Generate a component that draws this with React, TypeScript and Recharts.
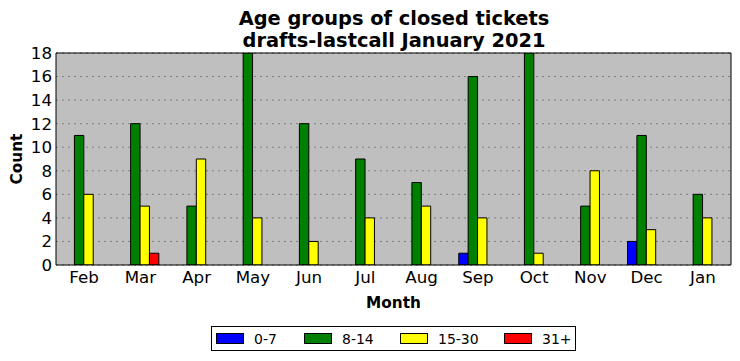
import React from 'react';
import { BarChart, Bar, XAxis, YAxis, CartesianGrid } from 'recharts';

const months = ['Feb', 'Mar', 'Apr', 'May', 'Jun', 'Jul', 'Aug', 'Sep', 'Oct', 'Nov', 'Dec', 'Jan'];
const age0to7 = [0, 0, 0, 0, 0, 0, 0, 1, 0, 0, 2, 0];
const age8to14 = [11, 12, 5, 18, 12, 9, 7, 16, 18, 5, 11, 6];
const age15to30 = [6, 5, 9, 4, 2, 4, 5, 4, 1, 8, 3, 4];
const age31plus = [0, 1, 0, 0, 0, 0, 0, 0, 0, 0, 0, 0];
const yTicks = [0, 2, 4, 6, 8, 10, 12, 14, 16, 18];

const seriesNames = ['0-7', '8-14', '15-30', '31+'];
const seriesColors = ['#0000ff', '#008000', '#ffff00', '#ff0000'];

const data = months.map((m, i) => ({
  month: m,
  a: age0to7[i],
  b: age8to14[i],
  c: age15to30[i],
  d: age31plus[i],
}));

const FONT = '"DejaVu Sans", sans-serif';

export default function App() {
  const keys = ['a', 'b', 'c', 'd'];
  return (
    <div style={{ position: 'absolute', left: 0, top: 0, width: 740, height: 361, background: '#fff', fontFamily: FONT }}>
      <BarChart
        width={740}
        height={361}
        data={data}
        margin={{ top: 53, right: 9, bottom: 95, left: 55 }}
        barGap={0}
        barSize={9.4}
      >
        <CartesianGrid vertical={false} stroke="#808080" strokeDasharray="2 4" fill="#bfbfbf" fillOpacity={1} />
        <XAxis
          dataKey="month"
          height={1}
          interval={0}
          tickLine={false}
          tickSize={0}
          tickMargin={6}
          axisLine={{ stroke: '#000', strokeWidth: 1 }}
          tick={{ fill: '#000', fontSize: 16.7, fontFamily: FONT }}
        />
        <XAxis xAxisId="bt" dataKey="month" height={1} mirror interval={0} tick={false} tickSize={4} tickLine={{ stroke: '#000' }} axisLine={false} />
        <XAxis xAxisId="top" orientation="top" dataKey="month" height={1} mirror interval={0} tick={false} tickSize={4} tickLine={{ stroke: '#000' }} axisLine={{ stroke: '#000', strokeWidth: 1 }} />
        <YAxis
          width={1}
          domain={[0, 18]}
          ticks={yTicks}
          interval={0}
          allowDataOverflow
          tickLine={false}
          tickSize={0}
          tickMargin={4}
          axisLine={{ stroke: '#000', strokeWidth: 1 }}
          tick={{ fill: '#000', fontSize: 16.7, fontFamily: FONT }}
        />
        <YAxis yAxisId="lt" width={1} mirror domain={[0, 18]} ticks={yTicks} interval={0} tick={false} tickSize={4} tickLine={{ stroke: '#000' }} axisLine={false} />
        <YAxis yAxisId="rt" orientation="right" width={1} mirror domain={[0, 18]} ticks={yTicks} interval={0} tick={false} tickSize={4} tickLine={{ stroke: '#000' }} axisLine={{ stroke: '#000', strokeWidth: 1 }} />
        {keys.map((k, i) => (
          <Bar key={k} dataKey={k} name={seriesNames[i]} fill={seriesColors[i]} stroke="#000" strokeWidth={1} isAnimationActive={false} />
        ))}
      </BarChart>
      <svg width={740} height={361} style={{ position: 'absolute', left: 0, top: 0, pointerEvents: 'none' }}>
        <text x={394} y={25} textAnchor="middle" fontFamily={FONT} fontWeight="bold" fontSize={19.4} fill="#000">Age groups of closed tickets</text>
        <text x={394} y={47} textAnchor="middle" fontFamily={FONT} fontWeight="bold" fontSize={19.4} fill="#000">drafts-lastcall January 2021</text>
        <text x={393.5} y={308} textAnchor="middle" fontFamily={FONT} fontWeight="bold" fontSize={15.3} fill="#000">Month</text>
        <text x={22} y={159} textAnchor="middle" fontFamily={FONT} fontWeight="bold" fontSize={15.3} fill="#000" transform="rotate(-90 22 159)">Count</text>
      </svg>
      <div style={{ position: 'absolute', left: 211, top: 326, width: 363, height: 23, border: '1px solid #000', background: '#fff', fontFamily: FONT, fontSize: 14 }}>
        {seriesNames.map((n, i) => (
          <div key={n} style={{ position: 'absolute', left: [4, 92, 188, 292][i], top: 0, height: 23, display: 'flex', alignItems: 'center' }}>
            <span style={{ display: 'inline-block', width: 26, height: 9, background: seriesColors[i], border: '1px solid #000' }} />
            <span style={{ marginLeft: 10, color: '#000' }}>{n}</span>
          </div>
        ))}
      </div>
    </div>
  );
}
